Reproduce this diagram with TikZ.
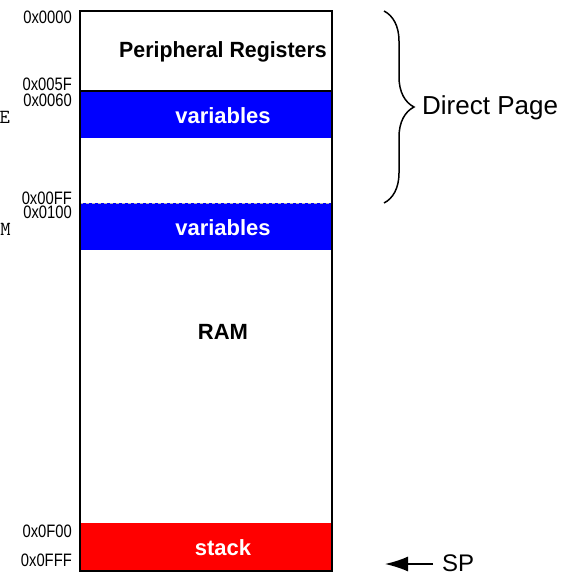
\documentclass[tikz,border=0pt]{standalone}
\usepackage{fontspec}
\setmainfont{Liberation Sans}
\newfontfamily\narrowfont[FakeStretch=0.82]{Liberation Sans}
\usetikzlibrary{decorations.pathreplacing,arrows.meta}
\tikzset{
  addr/.style={anchor=east,inner sep=0pt,font=\narrowfont\fontsize{18}{18}\selectfont},
  region/.style={inner sep=0pt,font=\bfseries\fontsize{22}{22}\selectfont},
  side/.style={inner sep=0pt,font=\fontsize{26}{26}\selectfont},
  cut/.style={anchor=east,inner sep=0pt,font=\ttfamily\fontsize{20}{20}\selectfont}
}
\begin{document}
\begin{tikzpicture}[x=1pt,y=-1pt]
    \useasboundingbox (0,0) rectangle (579,576);
    % memory blocks
    \fill[blue] (81,91) rectangle (332,138);
    \fill[blue] (81,203) rectangle (332,250);
    \fill[red] (81,523) rectangle (332,571);
    \draw[line width=1.5pt] (80,91) -- (332,91);
    \draw[black!30, dashed, line width=1pt] (80,203) -- (332,203);
    \draw[line width=2pt] (80,11) rectangle (332,571);
    % block texts
    \node[region, xscale=0.97] (periph) at (223,52) {Peripheral Registers};
    \node[region, white] (vars1) at (223,116) {variables};
    \node[region, white] (vars2) at (223,228) {variables};
    \node[region] (ram) at (223,332) {RAM};
    \node[region, white] (stack) at (223,548) {stack};
    % addresses
    \node[addr] (a0000) at (72,17) {0x0000};
    \node[addr] (a005f) at (72,84) {0x005F};
    \node[addr] (a0060) at (72,100) {0x0060};
    \node[addr] (a00ff) at (72,198) {0x00FF};
    \node[addr] (a0100) at (72,212) {0x0100};
    \node[addr] (a0f00) at (72,531) {0x0F00};
    \node[addr] (a0fff) at (72,560) {0x0FFF};
    % cut off labels on the left
    \node[cut] (cutE) at (10,117) {E};
    \node[cut] (cutM) at (11,229) {M};
    % direct page brace
    \coordinate (btop) at (384,11);
    \coordinate (bbot) at (384,203);
    \draw[decorate, decoration={brace,amplitude=30pt}, line width=1.5pt] (btop) -- (bbot);
    \node[side, anchor=west] (dp) at (422,108) {Direct Page};
    % stack pointer
    \node[side, anchor=west, font=\fontsize{24}{24}\selectfont] (sp) at (442,563) {SP};
    \coordinate (sptip) at (385,564);
    \draw[-{Latex[length=23pt,width=15pt]}, line width=1.5pt] (433,564) -- (sptip);
\end{tikzpicture}
\end{document}
